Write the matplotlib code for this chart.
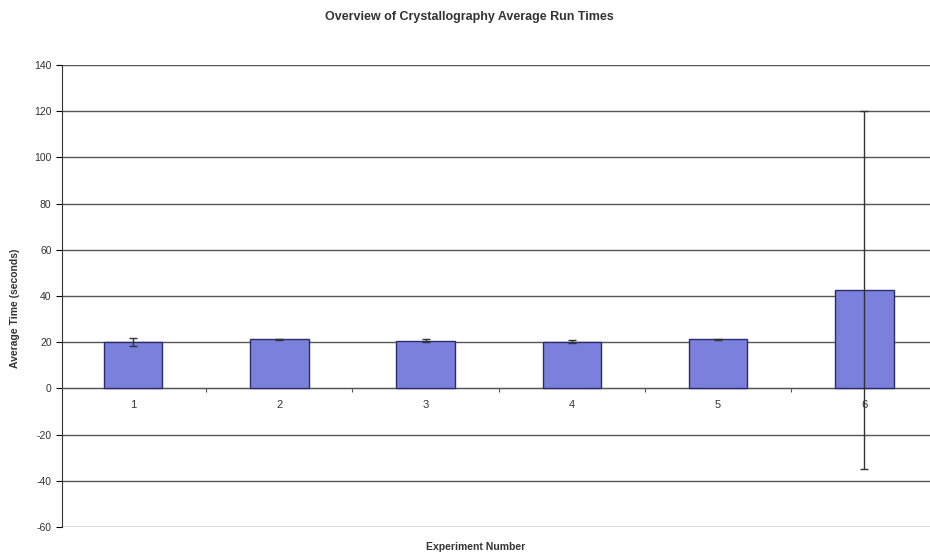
import matplotlib.pyplot as plt
from matplotlib.ticker import FixedLocator

plt.rcParams["font.family"] = ["Liberation Sans", "DejaVu Sans"]
plt.rcParams["axes.unicode_minus"] = False

experiments = ["1", "2", "3", "4", "5", "6"]
avg_times = [20.0, 21.2, 20.7, 20.3, 21.2, 42.8]
errors = [1.8, 0.3, 0.6, 0.5, 0.3, 77.5]

fig = plt.figure(figsize=(9.3, 5.56), dpi=100)
ax = fig.add_axes([62 / 930, 1 - 527 / 556, 1 - 62 / 930, (527 - 65) / 556])

x = list(range(1, len(experiments) + 1))
ax.bar(x, avg_times, width=0.4, color="#7b80dc", edgecolor="#2a2d6a",
       linewidth=1.0, zorder=3)
ax.errorbar(x, avg_times, yerr=errors, fmt="none", ecolor="#333333",
            elinewidth=1.0, capsize=3, capthick=1.0, zorder=4)

ax.set_xlim(0.515, 0.515 + (930 - 62) / 146.3)
ax.set_ylim(-60, 140)
ax.set_yticks(range(-60, 141, 20))
ax.yaxis.grid(True, color="#555555", linewidth=1.0, zorder=0)

# x axis sits on the zero line, boundary ticks between categories
ax.spines["bottom"].set_position(("data", 0))
ax.spines["bottom"].set_color("#555555")
ax.spines["left"].set_color("#333333")
ax.spines["top"].set_visible(False)
ax.spines["right"].set_visible(False)
ax.xaxis.set_major_locator(FixedLocator([i + 0.5 for i in x]))
ax.xaxis.set_major_formatter(plt.NullFormatter())
ax.xaxis.set_minor_locator(FixedLocator(x))
ax.set_xticklabels(experiments, minor=True)
ax.tick_params(axis="x", which="major", length=3, direction="out", color="#555555")
ax.tick_params(axis="x", which="minor", length=0, pad=8, labelsize=8, labelcolor="#333333")
ax.tick_params(axis="y", length=4, direction="out", labelsize=7.5, labelcolor="#333333")

fig.text(0.505, 0.97, "Overview of Crystallography Average Run Times",
         ha="center", va="center", fontsize=9, fontweight="bold", color="#333333")
fig.text(0.511, 0.016, "Experiment Number", ha="center", va="center",
         fontsize=7.5, fontweight="bold", color="#333333")
fig.text(0.016, 0.446, "Average Time (seconds)", ha="center", va="center",
         rotation=90, fontsize=7.5, fontweight="bold", color="#333333")

fig.savefig("out.png", dpi=100)
